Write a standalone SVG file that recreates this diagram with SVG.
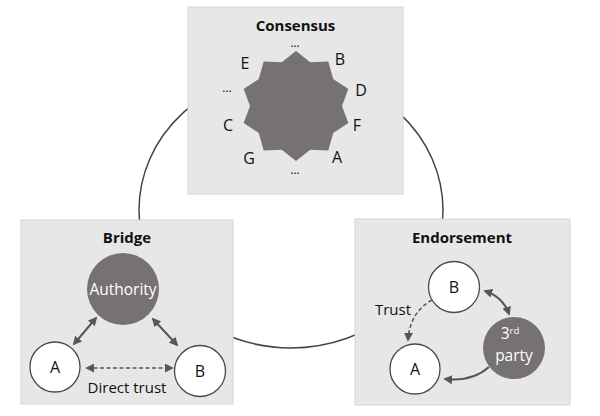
<svg xmlns="http://www.w3.org/2000/svg" width="600" height="416" viewBox="0 0 600 416">
<style>
.box{fill:#e7e7e7;stroke:#d4d4d4;stroke-width:1}
.title{font-family:"Open Sans","Liberation Sans",sans-serif;font-weight:bold;font-size:15px;fill:#111;text-anchor:middle}
.lbl{font-family:"Open Sans","Liberation Sans",sans-serif;font-size:16px;fill:#111;text-anchor:middle}
.txt{font-family:"Open Sans","Liberation Sans",sans-serif;font-size:15px;fill:#111;text-anchor:middle}
.dots{font-family:"Open Sans","Liberation Sans",sans-serif;font-size:12px;fill:#111;text-anchor:middle}
.wlbl{font-family:"Open Sans","Liberation Sans",sans-serif;font-size:15.5px;fill:#fff;text-anchor:middle}
.dark{fill:#767173}
.white{fill:#fff;stroke:#4a4a4a;stroke-width:1.3}
.arr{fill:none;stroke:#55575a;stroke-width:2}
.dash{stroke-dasharray:4 2.5;stroke-width:1.6}
</style>
<defs>
<marker id="ah" viewBox="0 0 10 10" refX="8" refY="5" markerWidth="9" markerHeight="9" markerUnits="userSpaceOnUse" orient="auto-start-reverse">
<path d="M0,0 L10,5 L0,10 z" fill="#55575a"/>
</marker>
</defs>
<g id="ring">
<ellipse cx="291" cy="210" rx="152" ry="138" fill="none" stroke="#444" stroke-width="1.5"/>
</g>
<g id="consensus">
<rect class="box" x="188" y="7" width="215" height="187"/>
<text class="title" x="295.5" y="31">Consensus</text>
<polygon class="dark" points="296,51 310.2,62.3 328.3,61.5 333.2,79 348.3,89 342,106 348.3,123 333.2,133 328.3,150.5 310.2,149.7 296,161 281.8,149.7 263.7,150.5 258.8,133 243.7,123 250,106 243.7,89 258.8,79 263.7,61.5 281.8,62.3"/>
<text class="dots" x="295" y="47">…</text>
<text class="lbl" x="245" y="69">E</text>
<text class="lbl" x="340" y="65">B</text>
<text class="lbl" x="361" y="96">D</text>
<text class="lbl" x="357" y="131">F</text>
<text class="lbl" x="337" y="163">A</text>
<text class="dots" x="295" y="174">…</text>
<text class="lbl" x="249" y="164">G</text>
<text class="lbl" x="228" y="131">C</text>
<text class="dots" x="227" y="92">…</text>
</g>
<g id="bridge">
<rect class="box" x="21" y="220" width="212" height="184"/>
<text class="title" x="127" y="243">Bridge</text>
<g id="authority">
<circle class="dark" cx="123" cy="289" r="36"/>
<text class="wlbl" x="123" y="294.5">Authority</text>
</g>
<g id="bridge-a">
<circle class="white" cx="55" cy="367" r="25"/>
<text class="lbl" x="55" y="373">A</text>
</g>
<g id="bridge-b">
<circle class="white" cx="200" cy="371" r="25.5"/>
<text class="lbl" x="200" y="377">B</text>
</g>
<text class="txt" x="127" y="393">Direct trust</text>
</g>
<g id="endorsement">
<rect class="box" x="355" y="219" width="215" height="186"/>
<text class="title" x="462" y="243">Endorsement</text>
<g id="end-b">
<circle class="white" cx="454" cy="287" r="25.5"/>
<text class="lbl" x="454" y="293">B</text>
</g>
<g id="end-a">
<circle class="white" cx="415" cy="369" r="25"/>
<text class="lbl" x="415" y="375">A</text>
</g>
<g id="third-party">
<circle class="dark" cx="514" cy="348" r="31"/>
<text class="wlbl" x="510" y="339" font-size="15">3<tspan font-size="9.5" dy="-5">rd</tspan></text>
<text class="wlbl" x="514" y="361" font-size="15">party</text>
</g>
<text class="txt" x="393" y="315">Trust</text>
</g>
<g id="connectors">
<line class="arr" x1="96" y1="318" x2="74" y2="344" marker-start="url(#ah)" marker-end="url(#ah)"/>
<line class="arr" x1="153" y1="319" x2="177" y2="345" marker-start="url(#ah)" marker-end="url(#ah)"/>
<line class="arr dash" x1="87" y1="368" x2="172" y2="368" marker-start="url(#ah)" marker-end="url(#ah)"/>
<path class="arr" d="M485,291 Q503,297 509,314" marker-start="url(#ah)" marker-end="url(#ah)"/>
<path class="arr" d="M489,367 Q472,382 445,379" marker-end="url(#ah)"/>
<path class="arr dash" d="M432,300 Q410,312 408,340" marker-end="url(#ah)"/>
</g>
</svg>
